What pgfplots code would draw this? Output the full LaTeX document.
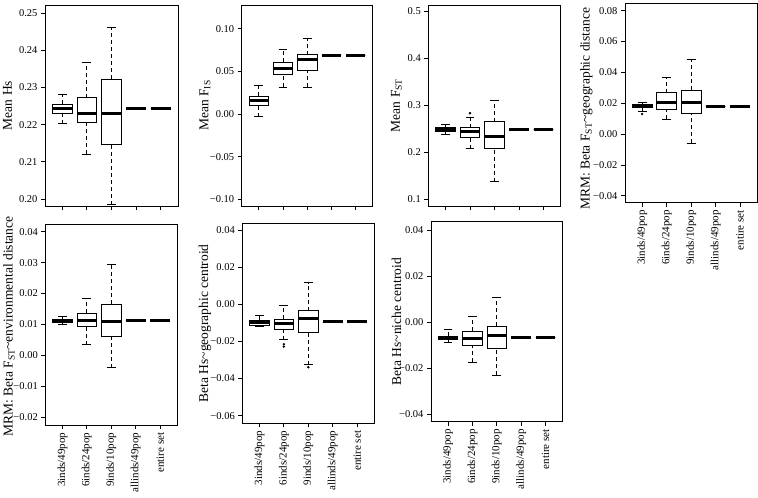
\documentclass[border=0pt]{standalone}
\usepackage{fontspec}
\setmainfont{Liberation Serif}
\usepackage{pgfplots}
\pgfplotsset{compat=1.18}
\pgfplotsset{
  panel/.style={scale only axis, anchor=north west, xmin=0.3, xmax=5.7, xtick={1,2,3,4,5},
    scaled ticks=false,
    tick align=outside, tick pos=left, major tick length=4pt,
    axis line style={line width=0.9pt}, every tick/.style={black, line width=0.8pt},
    yticklabel style={font=\fontsize{10.5}{12}\selectfont},
    xticklabel style={font=\fontsize{11}{12}\selectfont, rotate=90, anchor=east},
    ylabel style={font=\fontsize{13.5}{16}\selectfont}},
  ylab/.style 2 args={ylabel style={at={(axis description cs:#1,#2)}, anchor=center}},
  nolab/.style={xticklabels={,,,,}},
  lab/.style={xticklabels={3inds/49pop, 6inds/24pop, 9inds/10pop, allinds/49pop, entire set}},
  wsk/.style={black, line width=0.8pt, dash pattern=on 4pt off 3pt},
  sol/.style={black, line width=0.8pt, solid, line join=miter},
}
% #1 pos, #2 lower whisker, #3 Q1, #4 median, #5 Q3, #6 upper whisker
\newcommand{\bx}[6]{%
  \pgfmathsetmacro\xl{#1-0.4}\pgfmathsetmacro\xr{#1+0.4}%
  \pgfmathsetmacro\cl{#1-0.18}\pgfmathsetmacro\cr{#1+0.18}%
  \addplot[wsk] coordinates {(#1,#2) (#1,#3)};
  \addplot[wsk] coordinates {(#1,#5) (#1,#6)};
  \addplot[sol] coordinates {(\cl,#2) (\cr,#2)};
  \addplot[sol] coordinates {(\cl,#6) (\cr,#6)};
  \addplot[sol] coordinates {(\xl,#3) (\xr,#3) (\xr,#5) (\xl,#5)} --cycle;
  \addplot[black, line width=3pt] coordinates {(\xl,#4) (\xr,#4)};
}
\newcommand{\out}[2]{\addplot[black, only marks, mark=*, mark size=1pt] coordinates {(#1,#2)};}
\begin{document}
\begin{tikzpicture}
\useasboundingbox (0pt,0pt) rectangle (758pt,-498pt);
% Panel 1
\begin{axis}[panel, nolab, at={(45pt,-5pt)}, width=133pt, height=201pt, ylab={-0.282}{0.5},
  ymin=0.1981, ymax=0.2522, ytick={0.20,0.21,0.22,0.23,0.24,0.25},
  yticklabels={0.20,0.21,0.22,0.23,0.24,0.25}, ylabel={Mean Hs}]
\bx{1}{0.2202}{0.2231}{0.2243}{0.2255}{0.2282}
\bx{2}{0.2121}{0.2206}{0.2230}{0.2273}{0.2368}
\bx{3}{0.1985}{0.2146}{0.2230}{0.2323}{0.2461}
\bx{4}{0.2243}{0.2243}{0.2243}{0.2243}{0.2243}
\bx{5}{0.2243}{0.2243}{0.2243}{0.2243}{0.2243}
\end{axis}
% Panel 2
\begin{axis}[panel, nolab, at={(241.7pt,-5pt)}, width=131pt, height=201pt, ylab={-0.28}{0.5},
  ymin=-0.108, ymax=0.128, ytick={-0.10,-0.05,0,0.05,0.10},
  yticklabels={−0.10,−0.05,0.00,0.05,0.10}, ylabel={Mean F\textsubscript{IS}}]
\bx{1}{-0.0032}{0.0102}{0.0153}{0.0208}{0.0333}
\bx{2}{0.0314}{0.0471}{0.0533}{0.0608}{0.0753}
\bx{3}{0.0314}{0.0518}{0.0635}{0.0698}{0.0886}
\bx{4}{0.0690}{0.0690}{0.0690}{0.0690}{0.0690}
\bx{5}{0.0690}{0.0690}{0.0690}{0.0690}{0.0690}
\end{axis}
% Panel 3
\begin{axis}[panel, nolab, at={(428.3pt,-5pt)}, width=132.4pt, height=201pt, ylab={-0.24}{0.5},
  ymin=0.085, ymax=0.514, ytick={0.1,0.2,0.3,0.4,0.5},
  yticklabels={0.1,0.2,0.3,0.4,0.5}, ylabel={Mean F\textsubscript{ST}}]
\bx{1}{0.2387}{0.2436}{0.2479}{0.2521}{0.2585}
\bx{2}{0.207}{0.2314}{0.2436}{0.2521}{0.275}
\out{2}{0.283}
\bx{3}{0.1368}{0.2073}{0.2343}{0.2650}{0.3098}
\bx{4}{0.2475}{0.2475}{0.2475}{0.2475}{0.2475}
\bx{5}{0.2475}{0.2475}{0.2475}{0.2475}{0.2475}
\end{axis}
% Panel 4
\begin{axis}[panel, lab, at={(625pt,-3pt)}, width=132.3pt, height=199.7pt, ylab={-0.291}{0.47},
  ymin=-0.0445, ymax=0.085, ytick={-0.04,-0.02,0,0.02,0.04,0.06,0.08},
  yticklabels={−0.04,−0.02,0.00,0.02,0.04,0.06,0.08},
  ylabel={MRM: Beta F\textsubscript{ST}\textasciitilde geographic distance}]
\bx{1}{0.0145}{0.0173}{0.0181}{0.0192}{0.0203}
\out{1}{0.0130}
\bx{2}{0.0095}{0.0160}{0.0206}{0.0268}{0.0370}
\bx{3}{-0.0060}{0.0135}{0.0206}{0.0286}{0.0487}
\bx{4}{0.0181}{0.0181}{0.0181}{0.0181}{0.0181}
\bx{5}{0.0181}{0.0181}{0.0181}{0.0181}{0.0181}
\end{axis}
% Panel 5
\begin{axis}[panel, lab, at={(45.3pt,-224pt)}, width=132pt, height=201pt, ylab={-0.275}{0.49},
  ymin=-0.0225, ymax=0.0425, ytick={-0.02,-0.01,0,0.01,0.02,0.03,0.04},
  yticklabels={−0.02,−0.01,0.00,0.01,0.02,0.03,0.04},
  ylabel={MRM: Beta F\textsubscript{ST}\textasciitilde environmental distance}]
\bx{1}{0.0100}{0.0106}{0.0111}{0.0117}{0.0127}
\bx{2}{0.0035}{0.0093}{0.0114}{0.0136}{0.0185}
\bx{3}{-0.0040}{0.0062}{0.0111}{0.0165}{0.0295}
\bx{4}{0.0113}{0.0113}{0.0113}{0.0113}{0.0113}
\bx{5}{0.0113}{0.0113}{0.0113}{0.0113}{0.0113}
\end{axis}
% Panel 6
\begin{axis}[panel, lab, at={(242.3pt,-223.3pt)}, width=132pt, height=200pt, ylab={-0.283}{0.5},
  ymin=-0.0641, ymax=0.0436, ytick={-0.06,-0.04,-0.02,0,0.02,0.04},
  yticklabels={−0.06,−0.04,−0.02,0.00,0.02,0.04},
  ylabel={Beta Hs\textasciitilde geographic centroid}]
\bx{1}{-0.0118}{-0.0112}{-0.0098}{-0.0085}{-0.0061}
\bx{2}{-0.019}{-0.0133}{-0.0102}{-0.0081}{-0.0004}
\out{2}{-0.0215}
\out{2}{-0.0228}
\bx{3}{-0.0325}{-0.0153}{-0.0076}{-0.0035}{0.0116}
\out{3}{-0.0339}
\bx{4}{-0.0095}{-0.0095}{-0.0095}{-0.0095}{-0.0095}
\bx{5}{-0.0095}{-0.0095}{-0.0095}{-0.0095}{-0.0095}
\end{axis}
% Panel 7
\begin{axis}[panel, lab, at={(431pt,-221.7pt)}, width=131.7pt, height=200pt, ylab={-0.262}{0.5},
  ymin=-0.0433, ymax=0.0436, ytick={-0.04,-0.02,0,0.02,0.04},
  yticklabels={−0.04,−0.02,0.00,0.02,0.04},
  ylabel={Beta Hs\textasciitilde niche centroid}]
\bx{1}{-0.0090}{-0.0077}{-0.0069}{-0.0062}{-0.0032}
\bx{2}{-0.0175}{-0.0101}{-0.0073}{-0.0041}{0.0025}
\bx{3}{-0.0232}{-0.0113}{-0.0060}{-0.0017}{0.0109}
\bx{4}{-0.0067}{-0.0067}{-0.0067}{-0.0067}{-0.0067}
\bx{5}{-0.0067}{-0.0067}{-0.0067}{-0.0067}{-0.0067}
\end{axis}
\end{tikzpicture}
\end{document}
